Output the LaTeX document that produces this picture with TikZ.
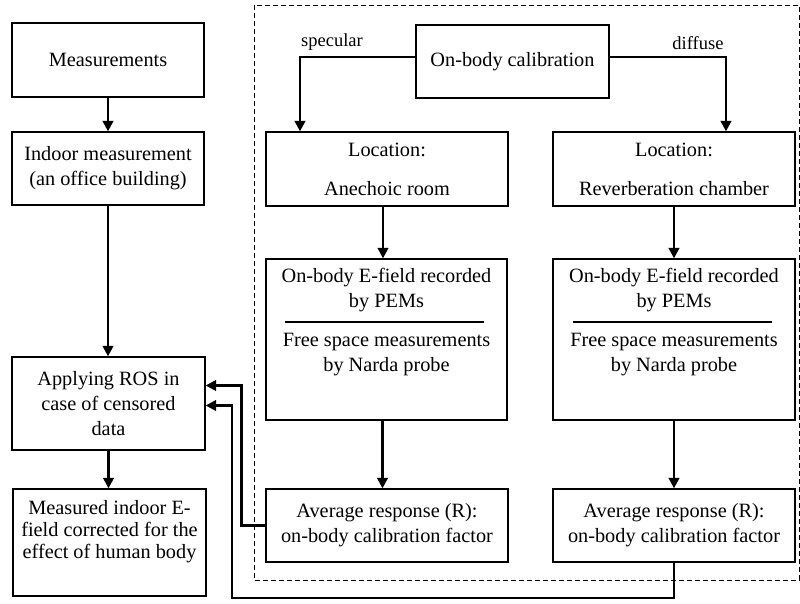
\documentclass[tikz,border=0pt]{standalone}
\usepackage{fontspec}
\setmainfont{Liberation Serif}
\newfontfamily\timesfont{Liberation Serif}
\usetikzlibrary{arrows.meta}

\tikzset{
	box/.style={rectangle, draw, line width=1.3pt, inner sep=0pt},
	txt/.style={align=center, font=\timesfont\fontsize{20.3}{25}\selectfont, inner sep=0pt},
	tag/.style={font=\timesfont\fontsize{18.5}{22}\selectfont, inner sep=0pt},
	arr/.style={line width=2.4pt, -{Triangle[length=10.5pt,width=10.5pt]}},
	frame/.style={line width=1pt, dash pattern=on 5pt off 3pt}
}

\begin{document}
\begin{tikzpicture}[x=1pt, y=-1pt]
	\useasboundingbox (0,0) rectangle (800,603);

	\draw[frame] (254,5) rectangle (799,580);

	% left column
	\node[box, txt, minimum width=192pt, minimum height=74pt] (meas) at (108,60) {Measurements};
	\node[box, txt, minimum width=192pt, minimum height=73pt] (indoor) at (108,168.5) {Indoor measurement\\(an office building)};
	\node[box, txt, minimum width=193pt, minimum height=93pt] (ros) at (108.5,403.5) {Applying ROS in\\case of censored\\data};
	\node[box, minimum width=193pt, minimum height=107pt] (corr) at (109.5,542.5) {};
	\node[txt, font=\timesfont\fontsize{20.3}{22}\selectfont] (corrtxt) at (109.5,532) {Measured indoor E-\\field corrected for the\\effect of human body};

	% calibration part
	\node[box, txt, minimum width=193pt, minimum height=73pt] (calib) at (512.5,61.5) {On-body calibration};
	\node[tag] (spec) at (332,42) {specular};
	\node[tag] (diff) at (698,43) {diffuse};

	\node[box, txt, minimum width=242pt, minimum height=74pt] (locA) at (387,169) {Location:\\[14pt]Anechoic room};
	\node[box, txt, minimum width=242pt, minimum height=74pt] (locR) at (674,169) {Location:\\[14pt]Reverberation chamber};

	\node[box, minimum width=241pt, minimum height=161pt] (efA) at (386.5,339.5) {};
	\node[txt] (efAtop) at (386.5,290) {On-body E-field recorded\\by PEMs};
	\node[txt] (efAbot) at (386.5,355) {Free space measurements\\by Narda probe};
	\draw[line width=1.2pt] (285,322) -- (484,322);

	\node[box, minimum width=242pt, minimum height=161pt] (efR) at (674,339.5) {};
	\node[txt] (efRtop) at (674,290) {On-body E-field recorded\\by PEMs};
	\node[txt] (efRbot) at (674,355) {Free space measurements\\by Narda probe};
	\draw[line width=1.2pt] (573,322) -- (772,322);

	\node[box, txt, minimum width=242pt, minimum height=73pt] (avgA) at (387,525.5) {Average response (R):\\on-body calibration factor};
	\node[box, txt, minimum width=242pt, minimum height=73pt] (avgR) at (674,525.5) {Average response (R):\\on-body calibration factor};

	% arrows
	\draw[arr] (meas.south) -- (meas.south |- indoor.north);
	\draw[arr] (indoor.south) -- (indoor.south |- ros.north);
	\draw[arr] (ros.south) -- (ros.south |- corr.north);

	\draw[arr] ([yshift=4.5pt]calib.west) -| ([xshift=-87pt]locA.north);
	\draw[arr] ([yshift=4.5pt]calib.east) -| ([xshift=52pt]locR.north);

	\draw[arr] ([xshift=-4pt]locA.south) -- ([xshift=-4pt]locA.south |- efA.north);
	\draw[arr] (locR.south) -- (locR.south |- efR.north);
	\draw[arr] ([xshift=-4pt]efA.south) -- ([xshift=-4pt]efA.south |- avgA.north);
	\draw[arr] (efR.south) -- (efR.south |- avgR.north);

	\draw[arr] (avgA.west) -- ++(-24,0) |- ([yshift=18pt]ros.east);
	\draw[arr] (avgR.south) |- (232,598) |- ([yshift=-2pt]ros.east);

\end{tikzpicture}
\end{document}
